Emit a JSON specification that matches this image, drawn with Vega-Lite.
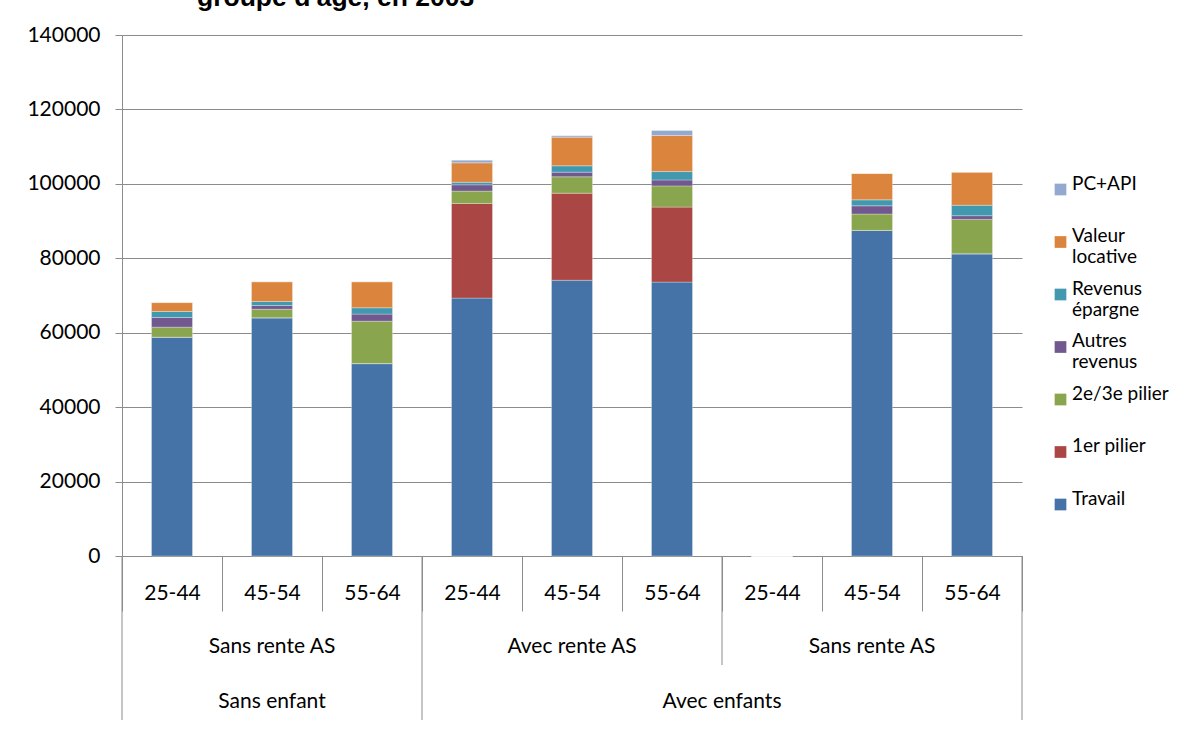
{
  "$schema": "https://vega.github.io/schema/vega-lite/v6.json",
  "width": 900,
  "height": 521,
  "autosize": {"type": "none"},
  "padding": {"left": 122, "top": 35, "right": 159, "bottom": 178},
  "background": "white",
  "title": {
    "text": "groupe d'âge, en 2003",
    "anchor": "start",
    "frame": "group",
    "dx": 75,
    "offset": -8,
    "baseline": "alphabetic",
    "font": "Liberation Sans",
    "fontSize": 26.5,
    "fontWeight": "bold",
    "color": "#000000"
  },
  "config": {
    "view": {"stroke": null},
    "font": "Lato"
  },
  "datasets": {
    "revenus": [
      {"cat": "Sans enfant|Sans rente AS|25-44", "Travail": 58800, "1er pilier": 0, "2e/3e pilier": 2700, "Autres revenus": 2600, "Revenus épargne": 1600, "Valeur locative": 2400, "PC+API": 0},
      {"cat": "Sans enfant|Sans rente AS|45-54", "Travail": 64000, "1er pilier": 0, "2e/3e pilier": 2300, "Autres revenus": 1000, "Revenus épargne": 1100, "Valeur locative": 5300, "PC+API": 0},
      {"cat": "Sans enfant|Sans rente AS|55-64", "Travail": 51700, "1er pilier": 0, "2e/3e pilier": 11400, "Autres revenus": 1900, "Revenus épargne": 1700, "Valeur locative": 7000, "PC+API": 0},
      {"cat": "Avec enfants|Avec rente AS|25-44", "Travail": 69300, "1er pilier": 25450, "2e/3e pilier": 3300, "Autres revenus": 1700, "Revenus épargne": 700, "Valeur locative": 5200, "PC+API": 700},
      {"cat": "Avec enfants|Avec rente AS|45-54", "Travail": 74100, "1er pilier": 23400, "2e/3e pilier": 4400, "Autres revenus": 1250, "Revenus épargne": 1700, "Valeur locative": 7700, "PC+API": 350},
      {"cat": "Avec enfants|Avec rente AS|55-64", "Travail": 73600, "1er pilier": 20150, "2e/3e pilier": 5700, "Autres revenus": 1600, "Revenus épargne": 2250, "Valeur locative": 9700, "PC+API": 1350},
      {"cat": "Avec enfants|Sans rente AS|25-44", "Travail": 0, "1er pilier": 0, "2e/3e pilier": 0, "Autres revenus": 0, "Revenus épargne": 0, "Valeur locative": 0, "PC+API": 0},
      {"cat": "Avec enfants|Sans rente AS|45-54", "Travail": 87500, "1er pilier": 0, "2e/3e pilier": 4400, "Autres revenus": 2200, "Revenus épargne": 1600, "Valeur locative": 7100, "PC+API": 0},
      {"cat": "Avec enfants|Sans rente AS|55-64", "Travail": 81200, "1er pilier": 0, "2e/3e pilier": 9250, "Autres revenus": 1000, "Revenus épargne": 2800, "Valeur locative": 8900, "PC+API": 0}
    ],
    "composantes": [
      {"composante": "Travail", "rang": 1},
      {"composante": "1er pilier", "rang": 2},
      {"composante": "2e/3e pilier", "rang": 3},
      {"composante": "Autres revenus", "rang": 4},
      {"composante": "Revenus épargne", "rang": 5},
      {"composante": "Valeur locative", "rang": 6},
      {"composante": "PC+API", "rang": 7}
    ]
  },
  "layer": [
    {
      "data": {"name": "revenus"},
      "transform": [
        {"fold": ["Travail", "1er pilier", "2e/3e pilier", "Autres revenus", "Revenus épargne", "Valeur locative", "PC+API"], "as": ["composante", "montant"]},
        {"lookup": "composante", "from": {"data": {"name": "composantes"}, "key": "composante", "fields": ["rang"]}}
      ],
      "mark": {"type": "bar", "width": {"band": 0.41}, "stroke": "#ffffff", "strokeWidth": 0.6, "strokeOpacity": 0.5},
      "encoding": {
        "x": {
          "field": "cat",
          "type": "nominal",
          "sort": null,
          "scale": {
            "domain": [
              "Sans enfant|Sans rente AS|25-44", "Sans enfant|Sans rente AS|45-54", "Sans enfant|Sans rente AS|55-64",
              "Avec enfants|Avec rente AS|25-44", "Avec enfants|Avec rente AS|45-54", "Avec enfants|Avec rente AS|55-64",
              "Avec enfants|Sans rente AS|25-44", "Avec enfants|Sans rente AS|45-54", "Avec enfants|Sans rente AS|55-64"
            ],
            "paddingInner": 0,
            "paddingOuter": 0
          },
          "axis": {
            "title": null,
            "labelExpr": "split(datum.label, '|')[2]",
            "labelAngle": 0,
            "labelFont": "Lato",
            "labelFontSize": 21,
            "labelColor": "#000000",
            "labelBaseline": "middle",
            "labelPadding": -18,
            "labelOverlap": false,
            "tickBand": "extent",
            "tickSize": 55,
            "tickColor": "#8c8c8c",
            "domainColor": "#8c8c8c",
            "grid": false
          }
        },
        "y": {
          "field": "montant",
          "type": "quantitative",
          "stack": "zero",
          "scale": {"domain": [0, 140000], "nice": false},
          "axis": {
            "title": null,
            "values": [0, 20000, 40000, 60000, 80000, 100000, 120000, 140000],
            "format": "d",
            "labelFont": "Lato",
            "labelFontSize": 21,
            "labelColor": "#000000",
            "labelPadding": 15,
            "labelFlush": false,
            "labelOverlap": false,
            "tickSize": 7,
            "tickColor": "#8c8c8c",
            "domainColor": "#8c8c8c",
            "grid": true,
            "gridColor": "#8c8c8c",
            "gridWidth": 1
          }
        },
        "order": {"field": "rang", "type": "quantitative", "sort": "ascending"},
        "color": {
          "field": "composante",
          "type": "nominal",
          "scale": {
            "domain": ["PC+API", "Valeur locative", "Revenus épargne", "Autres revenus", "2e/3e pilier", "1er pilier", "Travail"],
            "range": ["#93A9CF", "#DB843D", "#4198AF", "#71588F", "#89A54E", "#AA4643", "#4572A7"]
          },
          "legend": {
            "title": null,
            "orient": "none",
            "legendX": 929,
            "legendY": 145,
            "padding": 0,
            "symbolType": "square",
            "symbolSize": 137,
            "symbolStrokeWidth": 0,
            "labelFont": "Lato",
            "labelFontSize": 19,
            "labelColor": "#000000",
            "labelOffset": 2,
            "labelLimit": 200,
            "labelBaseline": "alphabetic",
            "rowPadding": 11.5,
            "labelExpr": "datum.label == 'Valeur locative' ? ['Valeur', 'locative'] : datum.label == 'Revenus épargne' ? ['Revenus', 'épargne'] : datum.label == 'Autres revenus' ? ['Autres', 'revenus'] : [datum.label, ' ']"
          }
        }
      }
    },
    {
      "data": {"values": [{"cat": "Sans enfant|Sans rente AS|25-44"}, {"cat": "Avec enfants|Avec rente AS|25-44"}]},
      "mark": {"type": "rule", "color": "#8c8c8c", "strokeWidth": 1},
      "encoding": {
        "x": {"field": "cat", "type": "nominal", "bandPosition": 0},
        "y": {"datum": 0},
        "y2": {"datum": -44070}
      }
    },
    {
      "data": {"values": [{"cat": "Avec enfants|Sans rente AS|55-64"}]},
      "mark": {"type": "rule", "color": "#8c8c8c", "strokeWidth": 1},
      "encoding": {
        "x": {"field": "cat", "type": "nominal", "bandPosition": 1},
        "y": {"datum": 0},
        "y2": {"datum": -44070}
      }
    },
    {
      "data": {"values": [{"cat": "Avec enfants|Sans rente AS|25-44"}]},
      "mark": {"type": "rule", "color": "#8c8c8c", "strokeWidth": 1},
      "encoding": {
        "x": {"field": "cat", "type": "nominal", "bandPosition": 0},
        "y": {"datum": 0},
        "y2": {"datum": -29290}
      }
    },
    {
      "data": {"values": [
        {"cat": "Sans enfant|Sans rente AS|45-54", "libelle": "Sans rente AS"},
        {"cat": "Avec enfants|Avec rente AS|45-54", "libelle": "Avec rente AS"},
        {"cat": "Avec enfants|Sans rente AS|45-54", "libelle": "Sans rente AS"}
      ]},
      "mark": {"type": "text", "font": "Lato", "fontSize": 21, "color": "#000000", "baseline": "middle", "align": "center"},
      "encoding": {
        "x": {"field": "cat", "type": "nominal", "bandPosition": 0.5},
        "y": {"datum": -24450},
        "text": {"field": "libelle"}
      }
    },
    {
      "data": {"values": [{"cat": "Sans enfant|Sans rente AS|45-54", "libelle": "Sans enfant"}]},
      "mark": {"type": "text", "font": "Lato", "fontSize": 21, "color": "#000000", "baseline": "middle", "align": "center"},
      "encoding": {
        "x": {"field": "cat", "type": "nominal", "bandPosition": 0.5},
        "y": {"datum": -39230},
        "text": {"field": "libelle"}
      }
    },
    {
      "data": {"values": [{"cat": "Avec enfants|Avec rente AS|55-64", "libelle": "Avec enfants"}]},
      "mark": {"type": "text", "font": "Lato", "fontSize": 21, "color": "#000000", "baseline": "middle", "align": "center"},
      "encoding": {
        "x": {"field": "cat", "type": "nominal", "bandPosition": 1},
        "y": {"datum": -39230},
        "text": {"field": "libelle"}
      }
    }
  ]
}
